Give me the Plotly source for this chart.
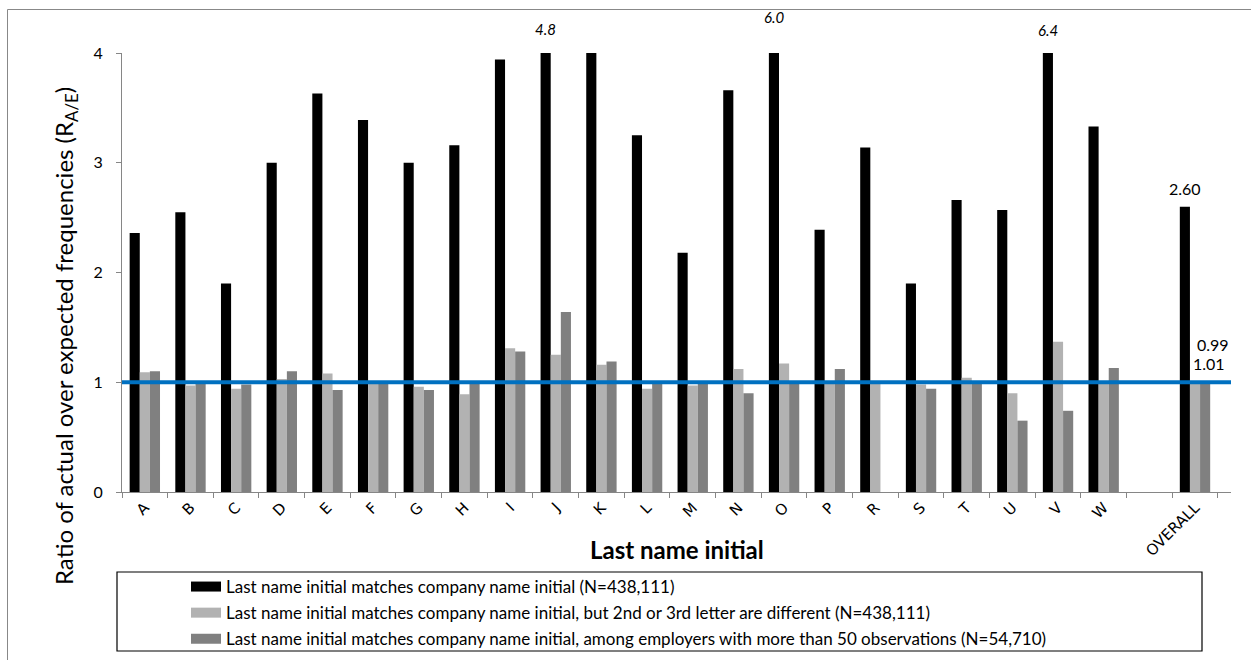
import plotly.graph_objects as go

categories = ["A", "B", "C", "D", "E", "F", "G", "H", "I", "J", "K", "L",
              "M", "N", "O", "P", "R", "S", "T", "U", "V", "W", " ", "OVERALL"]

match_initial = [2.36, 2.55, 1.90, 3.00, 3.63, 3.39, 3.00, 3.16, 3.94, 4.8, 4.0, 3.25,
                 2.18, 3.66, 6.0, 2.39, 3.14, 1.90, 2.66, 2.57, 6.4, 3.33, None, 2.60]
diff_letters = [1.09, 0.97, 0.94, 1.03, 1.08, 1.01, 0.96, 0.89, 1.31, 1.25, 1.16, 0.94,
                0.97, 1.12, 1.17, 1.00, 0.99, 0.98, 1.04, 0.90, 1.37, 1.00, None, 0.99]
large_employers = [1.10, 0.99, 0.98, 1.10, 0.93, 1.00, 0.93, 0.99, 1.28, 1.64, 1.19, 0.99,
                   0.99, 0.90, 0.99, 1.12, None, 0.94, 0.99, 0.65, 0.74, 1.13, None, 1.01]

series_names = [
    "Last name initial matches company name initial (N=438,111)",
    "Last name initial matches company name initial, but 2nd or 3rd letter are different (N=438,111)",
    "Last name initial matches company name initial, among employers with more than 50 observations (N=54,710)",
]
colors = ["#000000", "#B2B2B2", "#808080"]
reference_level = 1.0
y_max = 4

W, H = 1251, 660
ML, MR, MT, MB = 122, 20, 53, 168
PW = W - ML - MR
PH = H - MT - MB


def px_x(p):
    return (p - ML) / PW


def px_y(p):
    return (H - MB - p) / PH


fig = go.Figure()
for vals, name, col in zip([match_initial, diff_letters, large_employers], series_names, colors):
    fig.add_trace(go.Bar(x=categories, y=vals, name=name, marker=dict(color=col, line=dict(width=0)),
                         showlegend=False, hoverinfo="x+y"))

# legend-only entries (wide rectangular swatches)
for i, (name, col) in enumerate(zip(series_names, colors)):
    fig.add_trace(go.Scatter(x=[None], y=[None], mode="lines", name=name,
                             line=dict(color=col, width=11), legendgroup=f"g{i}",
                             showlegend=True))

# reference line at 1
fig.add_shape(type="line", xref="paper", x0=0, x1=1, yref="y", y0=reference_level, y1=reference_level,
              line=dict(color="#0070C0", width=4), layer="above")

# labels for clipped bars
label_offsets = {"J": 24, "O": 36, "V": 23}
for cat, v in zip(categories, match_initial):
    if v is not None and v > y_max:
        fig.add_annotation(x=cat, y=y_max, text=f"{v:.1f}", showarrow=False,
                           xshift=-10, yshift=label_offsets.get(cat, 24),
                           font=dict(family="Lato", size=15, color="#000", style="italic"))

# overall labels
ov = categories.index("OVERALL")
fig.add_annotation(x="OVERALL", y=match_initial[ov], text=f"{match_initial[ov]:.2f}", showarrow=False,
                   xshift=-10, yshift=18, font=dict(family="Lato", size=16, color="#000"))
fig.add_annotation(x="OVERALL", y=diff_letters[ov], text=f"{diff_letters[ov]:.2f}", showarrow=False,
                   xshift=18, yshift=39, font=dict(family="Lato", size=16, color="#000"))
fig.add_annotation(x="OVERALL", y=large_employers[ov], text=f"{large_employers[ov]:.2f}", showarrow=False,
                   xshift=14, yshift=18, font=dict(family="Lato", size=16, color="#000"))

# axis titles
fig.add_annotation(xref="paper", yref="paper", x=px_x(65), y=px_y(336), textangle=-90,
                   xanchor="center", yanchor="middle",
                   text="Ratio of actual over expected frequencies (R<sub>A/E</sub>)", showarrow=False,
                   font=dict(family="Lato", size=24, color="#000"))
fig.add_annotation(xref="paper", yref="paper", x=0.5, y=px_y(549), xanchor="center", yanchor="middle",
                   text="<b>Last name initial</b>", showarrow=False,
                   font=dict(family="Lato", size=24, color="#000"))

# legend box and chart-area border
fig.add_shape(type="rect", xref="paper", yref="paper", x0=px_x(117), x1=px_x(1202),
              y0=px_y(651), y1=px_y(572), line=dict(color="#000", width=1.2))
fig.add_shape(type="line", xref="paper", yref="paper", x0=px_x(7.5), x1=px_x(7.5),
              y0=px_y(9.5), y1=px_y(665), line=dict(color="#888", width=1))
fig.add_shape(type="line", xref="paper", yref="paper", x0=px_x(7.5), x1=px_x(1260),
              y0=px_y(9.5), y1=px_y(9.5), line=dict(color="#888", width=1))

fig.update_layout(
    width=W, height=H,
    margin=dict(l=ML, r=MR, t=MT, b=MB, autoexpand=False),
    paper_bgcolor="white", plot_bgcolor="white",
    barmode="group", bargap=0.335, bargroupgap=0,
    font=dict(family="Lato", color="#000"),
    legend=dict(x=px_x(186), y=px_y(569), xanchor="left", yanchor="top",
                bgcolor="rgba(0,0,0,0)", borderwidth=0, tracegroupgap=1,
                font=dict(family="Lato", size=17, color="#000")),
    xaxis=dict(type="category", categoryorder="array", categoryarray=categories,
               showline=True, linecolor="#868686", linewidth=1, ticks="outside",
               tickson="boundaries", ticklen=5, tickcolor="#868686", tickangle=-45,
               tickfont=dict(family="DejaVu Sans", size=15, color="#000"), showgrid=False,
               zeroline=False),
    yaxis=dict(range=[0, y_max], tickvals=[0, 1, 2, 3, 4], showline=True, linecolor="#868686",
               linewidth=1, ticks="outside", ticklen=5, tickcolor="#868686", showgrid=False,
               zeroline=False, ticklabelstandoff=10,
               tickfont=dict(family="Lato", size=16, color="#000")),
)

fig.write_html("out.html", config={"displayModeBar": False},
               post_script="document.body.style.margin='0';document.body.style.overflow='hidden';")
